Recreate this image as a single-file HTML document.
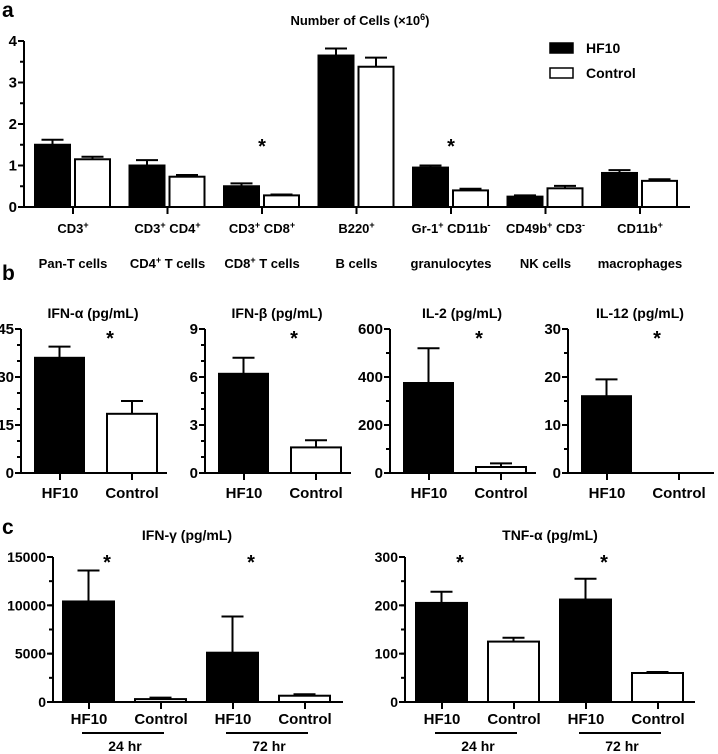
<!DOCTYPE html>
<html><head><meta charset="utf-8"><style>
html,body{margin:0;padding:0;background:#fff;}
svg{display:block;font-family:"Liberation Sans",sans-serif;font-weight:bold;}
</style></head><body>
<svg id="fig" width="718" height="754" viewBox="0 0 718 754" xmlns="http://www.w3.org/2000/svg">
<text x="2" y="17" font-size="21">a</text>
<text x="2" y="280" font-size="21">b</text>
<text x="2" y="534" font-size="21">c</text>
<text x="360" y="25" font-size="13" text-anchor="middle">Number of  Cells (×10<tspan font-size="9" baseline-shift="super">6</tspan>)</text>
<g>
<rect x="550" y="43" width="23" height="10" fill="#000" stroke="#000" stroke-width="1.5"/>
<text x="586" y="53" font-size="14">HF10</text>
<rect x="550" y="68" width="23" height="10" fill="#fff" stroke="#000" stroke-width="1.5"/>
<text x="586" y="78" font-size="14">Control</text>
</g>
</svg>
<script>
// Panel a data
const aCats1 = ["CD3+", "CD3+ CD4+", "CD3+ CD8+", "B220+", "Gr-1+ CD11b-", "CD49b+ CD3-", "CD11b+"];
const aCats2 = ["Pan-T cells", "CD4+ T cells", "CD8+ T cells", "B cells", "granulocytes", "NK cells", "macrophages"];
const aHF10 = [1.5, 1.0, 0.5, 3.65, 0.95, 0.25, 0.82];
const aHF10Err = [0.12, 0.13, 0.07, 0.17, 0.05, 0.03, 0.07];
const aCtrl = [1.15, 0.73, 0.28, 3.38, 0.4, 0.45, 0.63];
const aCtrlErr = [0.06, 0.04, 0.02, 0.22, 0.04, 0.06, 0.04];
const aSig = [false, false, true, false, true, false, false];
const aTicks = [0, 1, 2, 3, 4];
// Panel b data
const bTitles = ["IFN-α (pg/mL)", "IFN-β (pg/mL)", "IL-2 (pg/mL)", "IL-12 (pg/mL)"];
const bMax = [45, 9, 600, 30];
const bTicks = [[0, 15, 30, 45], [0, 3, 6, 9], [0, 200, 400, 600], [0, 10, 20, 30]];
const bMinor = [5, 1, 100, 5];
const bHF10 = [36, 6.2, 375, 16];
const bHF10Err = [3.5, 1.0, 145, 3.5];
const bCtrl = [18.5, 1.6, 25, 0];
const bCtrlErr = [4, 0.45, 15, 0];
// Panel c data
const cTitles = ["IFN-γ (pg/mL)", "TNF-α (pg/mL)"];
const cMax = [15000, 300];
const cTicks = [[0, 5000, 10000, 15000], [0, 100, 200, 300]];
const cMinor = [2500, 50];
const cHF10 = [[10400, 5100], [205, 212]];
const cHF10Err = [[3200, 3750], [23, 43]];
const cCtrl = [[300, 650], [125, 60]];
const cCtrlErr = [[150, 150], [8, 2]];
const cTimes = ["24 hr", "72 hr"];

const svg = document.getElementById('fig');
const NS = 'http://www.w3.org/2000/svg';
function mk(tag, attrs, parent) {
  const e = document.createElementNS(NS, tag);
  for (const k in attrs) e.setAttribute(k, attrs[k]);
  (parent || svg).appendChild(e);
  return e;
}
function line(x1, y1, x2, y2, p) { return mk('line', {x1, y1, x2, y2, stroke: '#000', 'stroke-width': 2}, p); }
function txt(x, y, s, size, anchor, p) { const t = mk('text', {x, y, 'font-size': size, 'text-anchor': anchor || 'middle'}, p); t.textContent = s; return t; }
function bar(x, w, v, err, y, fill, p, name) {
  const y0 = y(0), yv = y(v);
  const g = mk('g', {}, p);
  
  
  if (err > 0) {
    const ye = y(v + err);
    line(x + w / 2, yv, x + w / 2, ye, g);
    line(x + w / 2 - 11, ye, x + w / 2 + 11, ye, g);
  }
  const r = mk('rect', {x: x, y: yv, width: w, height: Math.max(0, y0 - yv), fill: fill, stroke: '#000', 'stroke-width': 2}, g);
  
  
}
function yAxis(ax, y0, y1, max, ticks, minor, p, size) {
  const y = v => y0 - (v / max) * (y0 - y1);
  line(ax, y0 + 1, ax, y1, p);
  for (let v = 0; v <= max + 1e-9; v += minor) line(ax - 4, y(v), ax, y(v), p);
  ticks.forEach(v => { line(ax - 6, y(v), ax, y(v), p); txt(ax - 7, y(v) + 5, String(v), size || 14, 'end', p); });
  return y;
}
function star(x, y, p) { const t = txt(x, y, '*', 20, 'middle', p);   }

// ---- Panel a
const ga = mk('g', {});


const ya = yAxis(24, 207, 41, 4, aTicks, 0.5, ga, 15);
line(23, 207, 690, 207, ga);
function supLabel(x, y, s, p) {
  const t = mk('text', {x, y, 'font-size': 13, 'text-anchor': 'middle'}, p);
  s.split(/([+-](?=\s|$))/).forEach(part => {
    if (!part) return;
    if (part === '+' || part === '-') {
      const ts = mk('tspan', {'font-size': 9, 'baseline-shift': 'super'}, t);
      ts.textContent = part;
    } else {
      const ts = mk('tspan', {}, t);
      ts.textContent = part;
    }
  });
  return t;
}
aCats1.forEach((c, i) => {
  const cx = 73 + i * 94.5;
  line(cx, 207, cx, 214, ga);
  bar(cx - 38, 35, aHF10[i], aHF10Err[i], ya, '#000', ga, 'bar-hf10-' + i);
  bar(cx + 2, 35, aCtrl[i], aCtrlErr[i], ya, '#fff', ga, 'bar-control-' + i);
  if (aSig[i]) star(cx, 153, ga);
  const l1 = supLabel(cx, 233, c, ga);
  
  
  const l2 = supLabel(cx, 268, aCats2[i], ga);
  
  
});

// ---- Panel b
const bAxes = [21, 205, 390, 568];
bTitles.forEach((t, i) => {
  const g = mk('g', {});
  
  
  const ax = bAxes[i];
  const y = yAxis(ax, 473, 329, bMax[i], bTicks[i], bMinor[i], g, 15);
  line(ax - 1, 473, ax + 146, 473, g);
  const c1 = ax + 39, c2 = ax + 111;
  line(c1, 473, c1, 480, g); line(c2, 473, c2, 480, g);
  bar(c1 - 25, 49, bHF10[i], bHF10Err[i], y, '#000', g, 'bar-hf10');
  bar(c2 - 25, 50, bCtrl[i], bCtrlErr[i], y, '#fff', g, 'bar-control');
  txt(c1, 498, 'HF10', 15, 'middle', g);
  txt(c2, 498, 'Control', 15, 'middle', g);
  star(ax + 89, 345, g);
  const tt = txt(ax + 72, 318, t, 14, 'middle', g);
  
  
});

// ---- Panel c
const cAxes = [53, 405];
cTitles.forEach((t, i) => {
  const g = mk('g', {});
  
  
  const ax = cAxes[i];
  const y = yAxis(ax, 702, 557, cMax[i], cTicks[i], cMinor[i], g, 14);
  line(ax - 1, 702, ax + 290, 702, g);
  const base = i === 0 ? 89 : 442;
  [0, 1].forEach(k => {
    const c1 = base + k * 144, c2 = c1 + 72;
    line(c1, 702, c1, 709, g); line(c2, 702, c2, 709, g);
    bar(c1 - 26, 51, cHF10[i][k], cHF10Err[i][k], y, '#000', g, 'bar-hf10-' + cTimes[k].replace(' ', ''));
    bar(c2 - 26, 51, cCtrl[i][k], cCtrlErr[i][k], y, '#fff', g, 'bar-control-' + cTimes[k].replace(' ', ''));
    txt(c1, 724, 'HF10', 15, 'middle', g);
    txt(c2, 724, 'Control', 15, 'middle', g);
    line(c1 - 7, 733, c2 + 3, 733, g);
    const tl = txt((c1 + c2) / 2, 751, cTimes[k], 14, 'middle', g);
    
    
    star(c1 + 18, 569, g);
  });
  const tt = txt(i === 0 ? 187 : 550, 540, t, 14, 'middle', g);
  
  
});
</script>
</body></html>
